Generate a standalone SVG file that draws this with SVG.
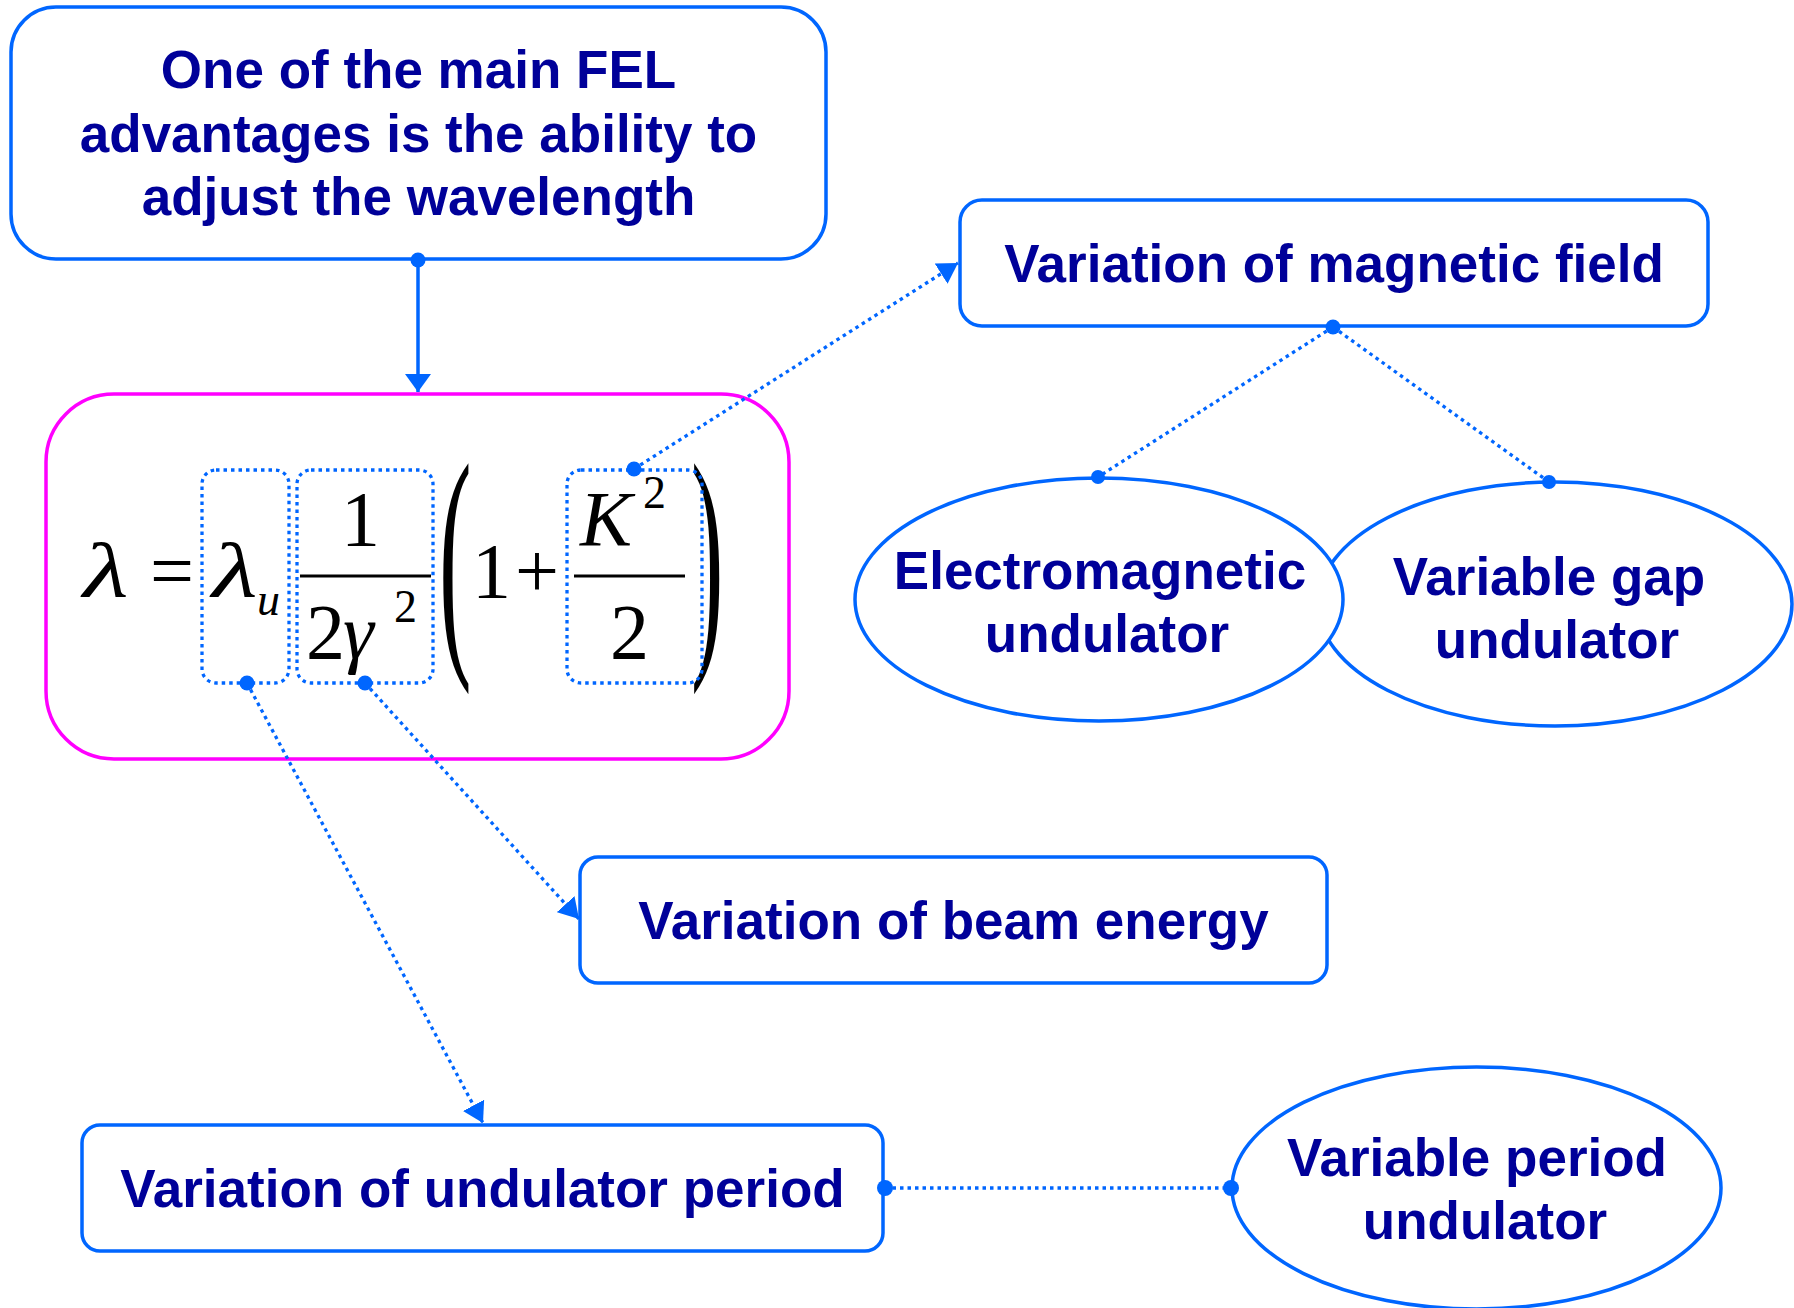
<svg xmlns="http://www.w3.org/2000/svg" width="1794" height="1308" viewBox="0 0 1794 1308">
<style>
.box{fill:#fff;stroke:#0066FF;stroke-width:3.5}
.mag{fill:#fff;stroke:#FF00FF;stroke-width:3.5}
.lbl{font-family:"Liberation Sans",Arial,sans-serif;font-weight:bold;font-size:53px;fill:#000099;text-anchor:middle}
.math{font-family:"Liberation Serif","Times New Roman",serif;font-size:78px;fill:#000}
.it{font-style:italic}
.sub{font-size:46px}
.dbox{fill:none;stroke:#0066FF;stroke-width:3.3;stroke-dasharray:3.5 4}
.solid{fill:none;stroke:#0066FF;stroke-width:3.5}
.dot{fill:none;stroke:#0066FF;stroke-width:3.3;stroke-dasharray:3.5 4}
.end{fill:#0066FF}
.bar{stroke:#000;stroke-width:3}
.paren{font-size:85px}
</style>
<defs>
<marker id="ah" viewBox="0 0 18 26" refX="18" refY="13" markerWidth="18" markerHeight="26" markerUnits="userSpaceOnUse" orient="auto">
<path d="M0,0 L18,13 L0,26 Z" fill="#0066FF"/>
</marker>
<marker id="ah2" viewBox="0 0 20 24" refX="20" refY="12" markerWidth="20" markerHeight="24" markerUnits="userSpaceOnUse" orient="auto">
<path d="M0,0 L20,12 L0,24 Z" fill="#0066FF"/>
</marker>
</defs>

<g id="node-fel">
<rect class="box" x="11" y="7" width="815" height="252" rx="45"/>
<text class="lbl" x="418.5" y="88">One of the main FEL</text>
<text class="lbl" x="418.5" y="152">advantages is the ability to</text>
<text class="lbl" x="418.5" y="215">adjust the wavelength</text>
</g>

<g id="node-formula">
<rect class="mag" x="46" y="394" width="743" height="365" rx="68"/>
<text class="math it" transform="translate(83,597) scale(1.35,1)" x="0" y="0">λ</text>
<text class="math" x="150" y="597">=</text>
<text class="math it" transform="translate(212,597) scale(1.35,1)" x="0" y="0">λ</text>
<text class="math it sub" x="257" y="615">u</text>
<text class="math" x="341" y="545">1</text>
<line class="bar" x1="300" y1="576" x2="431" y2="576"/>
<text class="math" x="306" y="658">2</text>
<text class="math it" x="343" y="658">γ</text>
<text class="math sub" x="394" y="622">2</text>
<text class="math paren" transform="translate(439,640) scale(1.15,3)">(</text>
<text class="math" x="472" y="597">1</text>
<text class="math" x="515" y="597">+</text>
<text class="math it" x="580" y="545">K</text>
<text class="math sub" x="643" y="508">2</text>
<line class="bar" x1="574" y1="576" x2="685" y2="576"/>
<text class="math" x="610" y="658">2</text>
<text class="math paren" transform="translate(691,640) scale(1.15,3)">)</text>
<rect class="dbox" x="202" y="470" width="87" height="213" rx="14"/>
<rect class="dbox" x="297" y="470" width="136" height="213" rx="14"/>
<rect class="dbox" x="567" y="470" width="135" height="213" rx="14"/>
</g>

<g id="node-magnetic">
<rect class="box" x="960" y="200" width="748" height="126" rx="22"/>
<text class="lbl" x="1334" y="282">Variation of magnetic field</text>
</g>

<g id="node-gap">
<ellipse class="box" cx="1555" cy="604" rx="237" ry="122"/>
<text class="lbl" x="1549" y="595">Variable gap</text>
<text class="lbl" x="1557" y="658">undulator</text>
</g>

<g id="node-electromagnetic">
<ellipse class="box" cx="1099" cy="599.5" rx="244" ry="121.5"/>
<text class="lbl" x="1100" y="589">Electromagnetic</text>
<text class="lbl" x="1107" y="652">undulator</text>
</g>

<g id="node-beam">
<rect class="box" x="580" y="857" width="747" height="126" rx="18"/>
<text class="lbl" x="953.5" y="939">Variation of beam energy</text>
</g>

<g id="node-period">
<rect class="box" x="82" y="1125" width="801" height="126" rx="18"/>
<text class="lbl" x="482.5" y="1207">Variation of undulator period</text>
</g>

<g id="node-varperiod">
<ellipse class="box" cx="1476.5" cy="1188" rx="244.5" ry="121"/>
<text class="lbl" x="1477" y="1176">Variable period</text>
<text class="lbl" x="1485" y="1239">undulator</text>
</g>

<g id="connectors">
<line class="solid" x1="418" y1="260" x2="418" y2="392" marker-end="url(#ah)"/>
<circle class="end" cx="418" cy="260" r="7.5"/>
<line class="dot" x1="634" y1="469" x2="958" y2="263" marker-end="url(#ah2)"/>
<circle class="end" cx="634" cy="469" r="7.5"/>
<line class="dot" x1="365" y1="683" x2="579" y2="919" marker-end="url(#ah2)"/>
<circle class="end" cx="365" cy="683" r="7.5"/>
<line class="dot" x1="247" y1="683" x2="483" y2="1123" marker-end="url(#ah2)"/>
<circle class="end" cx="247" cy="683" r="7.5"/>
<line class="dot" x1="1333" y1="327" x2="1098" y2="477"/>
<line class="dot" x1="1333" y1="327" x2="1549" y2="482"/>
<circle class="end" cx="1333" cy="327" r="7.5"/>
<circle class="end" cx="1098" cy="477" r="7"/>
<circle class="end" cx="1549" cy="482" r="7"/>
<line class="dot" x1="885" y1="1188" x2="1231" y2="1188"/>
<circle class="end" cx="885" cy="1188" r="8"/>
<circle class="end" cx="1231" cy="1188" r="8"/>
</g>
</svg>
